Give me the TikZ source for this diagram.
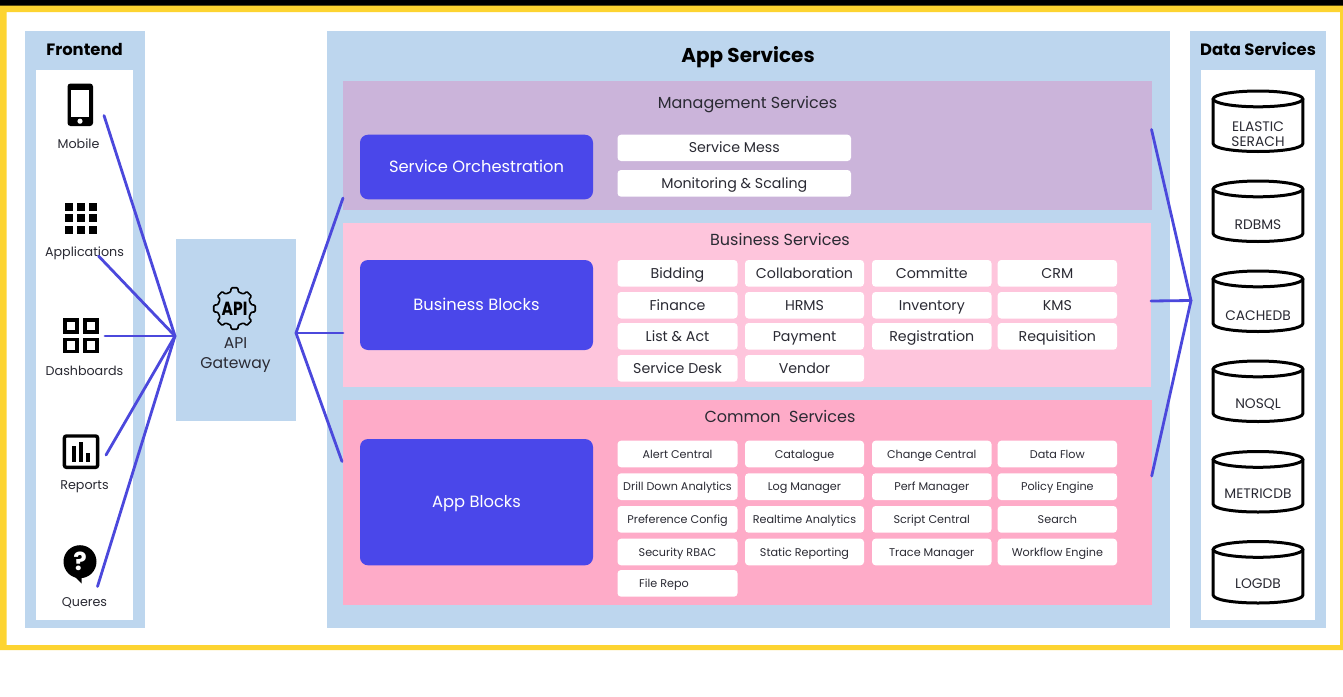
\documentclass[tikz,border=0pt]{standalone}
\usepackage{fontspec}
\setmainfont{Poppins}
\definecolor{frameyel}{HTML}{FDD431}
\definecolor{panelblue}{HTML}{BDD6EE}
\definecolor{mgmtpurple}{HTML}{CBB4DA}
\definecolor{bizpink}{HTML}{FEC5DC}
\definecolor{compink}{HTML}{FEABC8}
\definecolor{blockblue}{HTML}{4A47EA}
\definecolor{linkblue}{HTML}{4B48DC}
\definecolor{inktext}{HTML}{2A2A33}
\tikzset{
  fixline/.style={text depth=3pt,text height=#1pt},
  boxbase/.style={inner sep=0pt,outer sep=0pt,text=inktext},
  panel/.style={boxbase,fill=panelblue},
  whitepanel/.style={boxbase,fill=white},
  mgmt/.style={boxbase,fill=mgmtpurple},
  biz/.style={boxbase,fill=bizpink},
  com/.style={boxbase,fill=compink},
  block/.style={boxbase,fill=blockblue,rounded corners=8pt,text=white,font=\fontsize{16.3}{19}\selectfont,fixline=14.6},
  tilebig/.style={boxbase,fill=white,rounded corners=3.5pt,font=\fontsize{14.2}{17}\selectfont,fixline=13.2},
  tilesmall/.style={boxbase,fill=white,rounded corners=3.5pt,font=\fontsize{11.2}{14}\selectfont,fixline=11.6},
  headbold/.style={inner sep=0pt,outer sep=0pt,text=black,font=\bfseries\fontsize{16.4}{19}\selectfont,fixline=15.5},
  headsub/.style={inner sep=0pt,outer sep=0pt,text=inktext,font=\fontsize{16}{18}\selectfont,fixline=14.5},
  iconlabel/.style={inner sep=0pt,outer sep=0pt,text=inktext,font=\fontsize{12.7}{16}\selectfont,fixline=12.1},
  dblabel/.style={inner sep=0pt,outer sep=0pt,align=center,text=inktext,font=\fontsize{13.8}{15}\selectfont},
  dbline/.style={draw=black,line width=3pt,fill=white},
  link/.style={draw=linkblue,line width=2.8pt,line cap=round},
}
% name, x1, y1, x2, y2, style, text
\newcommand{\boxnode}[7]{%
  \pgfmathsetmacro{\bcx}{(#2+#4)/2}\pgfmathsetmacro{\bcy}{(#3+#5)/2}%
  \pgfmathsetmacro{\bw}{#4-#2}\pgfmathsetmacro{\bh}{#5-#3}%
  \node[#6,minimum width=\bw pt,minimum height=\bh pt] (#1) at (\bcx,\bcy) {#7};}
% name, top, bottom, label, label y
\newcommand{\dbcyl}[5]{%
  \pgfmathsetmacro{\tc}{#2+9.4}\pgfmathsetmacro{\bs}{#3-9.4}%
  \pgfmathsetmacro{\bb}{#3-1.5}\pgfmathsetmacro{\bk}{\bs+4.6}%
  \draw[dbline] (1213.2,\tc) -- (1213.2,\bs) .. controls (1213.2,\bk) and (1233,\bb) .. (1258,\bb)
     .. controls (1283,\bb) and (1302.8,\bk) .. (1302.8,\bs) -- (1302.8,\tc);
  \draw[dbline] (1258,\tc) ellipse [x radius=44.8pt,y radius=7.9pt];
  \node[dblabel] (#1) at (1258,#5) {#4};}
\begin{document}
\begin{tikzpicture}[x=1pt,y=-1pt]
\useasboundingbox (0,0) rectangle (1343,696);
\fill[white] (0,0) rectangle (1343,696);
% frame
\fill[black] (0,0) rectangle (1343,5.5);
\fill[frameyel,even odd rule] (0,5.5) rectangle (1343,650) (6.5,12) rectangle (1340,645);
% frontend
\boxnode{frontend}{24.5}{31}{144.5}{628}{panel}{}
\boxnode{frontendin}{36}{70}{133}{619.5}{whitepanel}{}
\node[headbold] (frontendT) at (84.5,49) {Frontend};
% mobile icon
\fill[black,rounded corners=3pt] (67.5,83.5) rectangle (93,126);
\fill[white] (71,89.5) rectangle (89.2,116.7);
\fill[white] (80,121.2) circle (2.6);
\node[iconlabel] (mobile) at (78.5,143.5) {Mobile};
% applications icon
\foreach \i in {0,1,2}{\foreach \j in {0,1,2}{
  \fill[black] (65.3+11.7*\i,202.7+11.7*\j) rectangle +(8,8);}}
\node[iconlabel] (apps) at (84.5,252) {Applications};
% dashboards icon
\foreach \xa/\ya in {63.3/318.3,83/318.3,63.3/337.5,83/337.5}{
  \draw[black,line width=3.6pt] (\xa+1.8,\ya+1.8) rectangle +(12,12);}
\node[iconlabel] (dash) at (84.5,371) {Dashboards};
% reports icon
\draw[black,line width=3.4pt,rounded corners=2pt] (64.4,436) rectangle (97.6,467.3);
\fill[black] (72,446) rectangle (76,461.5);
\fill[black] (78.5,441.7) rectangle (82.5,461.5);
\fill[black] (86,453.3) rectangle (90,461.5);
\node[iconlabel] (reports) at (84.5,484.5) {Reports};
% queries icon
\fill[black] (80,561.7) circle (16.5);
\fill[black] (72,574) -- (81.7,583.5) -- (81.7,572) -- cycle;
\node[inner sep=0pt,text=white,font=\bfseries\fontsize{25}{25}\selectfont] (qmark) at (80,561) {?};
\node[iconlabel] (queres) at (84.5,601.5) {Queres};
% API gateway
\boxnode{gateway}{176}{239}{296}{420.5}{panel}{}
\begin{scope}[shift={(234.5,308.5)}]
\draw[black,line width=1.6pt,line join=round,rounded corners=1pt] (-13:17)
  foreach \a in {0,45,...,315}{ -- (\a-13:17) -- (\a-9:21) -- (\a+9:21) -- (\a+13:17) } -- cycle;
\end{scope}
\node[inner sep=0pt,xscale=.82,transform shape,text=black,font=\bfseries\fontsize{19}{19}\selectfont] (apiglyph) at (234.5,308.5) {API};
\node[inner sep=0pt,align=center,text=inktext,font=\fontsize{15.6}{20}\selectfont] (gatewayT) at (235.5,355.5) {API\\Gateway};
% app services
\boxnode{app}{327}{31}{1169.5}{628}{panel}{}
\node[headbold,font=\bfseries\fontsize{20}{24}\selectfont,fixline=17.6] (appT) at (748,55.5) {App Services};
\boxnode{mgmtS}{343}{81}{1151.5}{210}{mgmt}{}
\boxnode{bizS}{342.5}{222.5}{1151}{387}{biz}{}
\boxnode{comS}{343}{400}{1152}{605}{com}{}
\node[headsub] (mgmtT) at (747.5,102.5) {Management Services};
\node[headsub] (bizT) at (780,239.5) {Business Services};
\node[headsub] (comT) at (780,417) {Common\ \ Services};
\boxnode{orch}{360}{134.7}{593}{199.3}{block}{Service Orchestration}
\boxnode{bblocks}{360}{260}{593}{350}{block}{Business Blocks}
\boxnode{ablocks}{360}{439}{593}{565.3}{block}{App Blocks}
\boxnode{mess}{617.5}{134.7}{851}{161}{tilebig}{Service Mess}
\boxnode{monit}{617.5}{170}{851}{196.7}{tilebig}{Monitoring \& Scaling}
% business tiles
\boxnode{b11}{617.5}{260}{737.5}{286.7}{tilebig}{Bidding}
\boxnode{b12}{745}{260}{864}{286.7}{tilebig}{Collaboration}
\boxnode{b13}{872}{260}{991.5}{286.7}{tilebig}{Committe}
\boxnode{b14}{997.7}{260}{1117}{286.7}{tilebig}{CRM}
\boxnode{b21}{617.5}{292}{737.5}{318.5}{tilebig}{Finance}
\boxnode{b22}{745}{292}{864}{318.5}{tilebig}{HRMS}
\boxnode{b23}{872}{292}{991.5}{318.5}{tilebig}{Inventory}
\boxnode{b24}{997.7}{292}{1117}{318.5}{tilebig}{KMS}
\boxnode{b31}{617.5}{323}{737.5}{349.7}{tilebig}{List \& Act}
\boxnode{b32}{745}{323}{864}{349.7}{tilebig}{Payment}
\boxnode{b33}{872}{323}{991.5}{349.7}{tilebig}{Registration}
\boxnode{b34}{997.7}{323}{1117}{349.7}{tilebig}{Requisition}
\boxnode{b41}{617.5}{355}{737.5}{381.7}{tilebig}{Service Desk}
\boxnode{b42}{745}{355}{864}{381.7}{tilebig}{Vendor}
% common tiles
\boxnode{c11}{617.5}{440.7}{737.5}{467.3}{tilesmall}{Alert Central}
\boxnode{c12}{745}{440.7}{864}{467.3}{tilesmall}{Catalogue}
\boxnode{c13}{872}{440.7}{991.5}{467.3}{tilesmall}{Change Central}
\boxnode{c14}{997.7}{440.7}{1117}{467.3}{tilesmall}{Data Flow}
\boxnode{c21}{617.5}{473.3}{737.5}{500}{tilesmall}{Drill Down Analytics}
\boxnode{c22}{745}{473.3}{864}{500}{tilesmall}{Log Manager}
\boxnode{c23}{872}{473.3}{991.5}{500}{tilesmall}{Perf Manager}
\boxnode{c24}{997.7}{473.3}{1117}{500}{tilesmall}{Policy Engine}
\boxnode{c31}{617.5}{506}{737.5}{532.7}{tilesmall}{Preference Config}
\boxnode{c32}{745}{506}{864}{532.7}{tilesmall}{Realtime Analytics}
\boxnode{c33}{872}{506}{991.5}{532.7}{tilesmall}{Script Central}
\boxnode{c34}{997.7}{506}{1117}{532.7}{tilesmall}{Search}
\boxnode{c41}{617.5}{538.7}{737.5}{565.3}{tilesmall}{Security RBAC}
\boxnode{c42}{745}{538.7}{864}{565.3}{tilesmall}{Static Reporting}
\boxnode{c43}{872}{538.7}{991.5}{565.3}{tilesmall}{Trace Manager}
\boxnode{c44}{997.7}{538.7}{1117}{565.3}{tilesmall}{Workflow Engine}
\boxnode{c51}{617.5}{570}{737.5}{596.7}{tilesmall}{}
\node[inner sep=0pt,fixline=11.6,text=inktext,font=\fontsize{11.2}{14}\selectfont] (c51T) at (664,583.5) {File Repo};
% data services
\boxnode{data}{1190}{31}{1326}{628}{panel}{}
\boxnode{datain}{1201}{70}{1315}{619.5}{whitepanel}{}
\node[headbold] (dataT) at (1258,49) {Data Services};
\dbcyl{db1}{89.5}{153}{ELASTIC\\SERACH}{134.5}
\dbcyl{db2}{179.5}{243}{RDBMS}{224.5}
\dbcyl{db3}{269.5}{333}{CACHEDB}{315.5}
\dbcyl{db4}{359.5}{423}{NOSQL}{404.5}
\dbcyl{db5}{450}{513.5}{METRICDB}{493.5}
\dbcyl{db6}{540}{604.5}{LOGDB}{583.5}
% connector ends
\coordinate (gwIn) at (175,336);
\coordinate (gwOut) at (296,333);
\coordinate (dataIn) at (1191,300.5);
\coordinate (fMobile) at (104,115.5);
\coordinate (fApps) at (98.5,256);
\coordinate (fDash) at (105,336);
\coordinate (fReports) at (106,455);
\coordinate (fQueres) at (97.5,586.5);
\coordinate (aMgmt) at (343,198);
\coordinate (aBiz) at (343,333);
\coordinate (aCom) at (342,461.5);
\coordinate (rMgmt) at (1151.5,129.5);
\coordinate (rBiz) at (1151,301);
\coordinate (rCom) at (1151.7,476);
\draw[link] (fMobile) -- (gwIn);
\draw[link] (fApps) -- (gwIn);
\draw[link] (fDash) -- (gwIn);
\draw[link] (fReports) -- (gwIn);
\draw[link] (fQueres) -- (gwIn);
\draw[link] (gwOut) -- (aMgmt);
\draw[link] (gwOut) -- (aBiz);
\draw[link] (gwOut) -- (aCom);
\draw[link] (rMgmt) -- (dataIn);
\draw[link] (rBiz) -- (dataIn);
\draw[link] (rCom) -- (dataIn);
\end{tikzpicture}
\end{document}
